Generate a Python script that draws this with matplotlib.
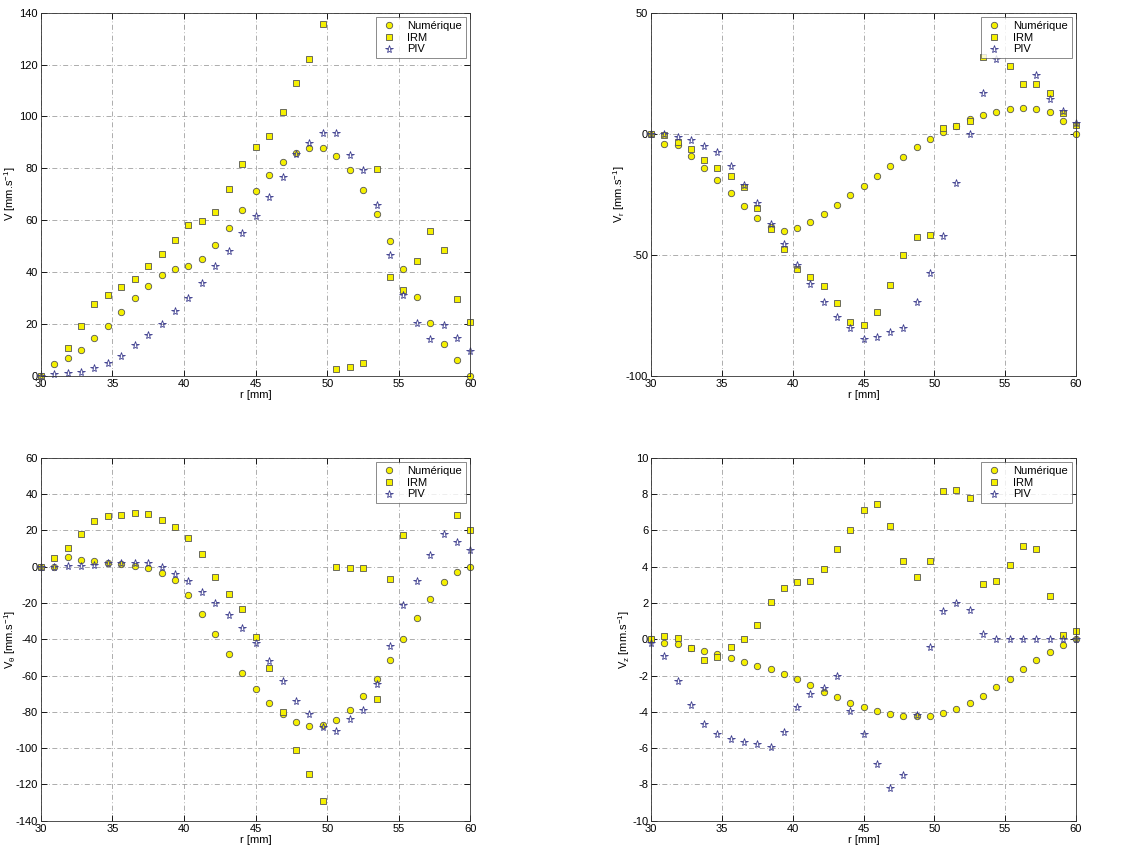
import matplotlib.pyplot as plt
import numpy as np

nan = np.nan

# radial positions (mm), 33 stations from 30 to 60
r = [30.0, 30.94, 31.88, 32.81, 33.75, 34.69, 35.63, 36.56, 37.5, 38.44, 39.38,
     40.31, 41.25, 42.19, 43.13, 44.06, 45.0, 45.94, 46.88, 47.81, 48.75, 49.69,
     50.63, 51.56, 52.5, 53.44, 54.38, 55.31, 56.25, 57.19, 58.13, 59.06, 60.0]

# V
v_num = [0, 4.7, 6.9, 10, 14.4, 19.3, 24.5, 29.8, 34.7, 38.7, 41, 42.2, 45.2, 50.3,
         56.8, 64.1, 71.2, 77.4, 82.4, 85.9, 87.8, 87.8, 84.7, 79.2, 71.5, 62.3,
         52, 41.3, 30.3, 20.2, 12.3, 6.2, 0]
v_irm = [0, nan, 10.8, 19.3, 27.5, 31.1, 34.1, 37.4, 42.4, 47, 52.4, 58, 59.8, 63.1,
         71.9, 81.6, 88.4, 92.5, 101.7, 113.1, 122.2, 135.7, 2.7, 3.5, 5.1, 79.7,
         38.2, 32.9, 44.1, 55.8, 48.6, 29.6, 20.8]
v_piv = [0, 0.5, 1, 1.5, 3.1, 4.8, 7.7, 11.7, 15.6, 20, 24.8, 29.8, 35.9, 42.3,
         48.3, 54.9, 61.7, 68.8, 76.5, 85.6, 89.6, 93.7, 93.7, 85, 79.4, 65.9,
         46.7, 31, 20.2, 14, 19.4, 14.4, 9.5]

# Vr
vr_num = [0, -4.4, -4.5, -9.2, -14, -19.1, -24.4, -29.8, -34.7, -38.5, -40.2,
          -39.1, -36.6, -33.3, -29.5, -25.5, -21.5, -17.4, -13.2, -9.4, -5.5,
          -2.1, 0.8, 3.4, 6.1, 7.7, 9.2, 10.2, 10.6, 10.3, 9, 5.4, 0]
vr_irm = [0, -0.4, -3.2, -6.3, -11, -14.3, -17.6, -22.2, -30.6, -39.4, -47.5,
          -55.8, -59.2, -62.8, -70, -78, -79.2, -73.8, -62.3, -50.1, -42.7,
          -41.9, 2.5, 3.2, 5.1, 31.7, nan, 28, 20.5, 20.5, 17, 8.4, 3.6]
vr_piv = [0, 0, -1.4, -2.6, -5.1, -7.6, -13.4, -21.3, -28.7, -37.3, -45.7, -54.1,
          -62, -69.6, -75.8, -80.4, -84.7, -84, -81.8, -80.2, -69.6, -57.7,
          -42.4, -20.2, 0, 17, 31.1, nan, nan, 24.1, 14.2, 9.4, 4.5]

# Vtheta
vt_num = [0, 0, 5.2, 3.6, 3.1, 2.1, 1.4, 0.4, -0.8, -3.4, -7.6, -15.7, -26.3,
          -37.3, -48.4, -58.8, -67.6, -75.3, -81.2, -85.4, -87.6, -87.2, -84.7,
          -78.8, -71.1, -61.8, -51.3, -39.7, -28.3, -17.7, -8.6, -2.8, 0]
vt_irm = [0, 4.7, 10.4, 18.1, 25.3, 27.9, 28.6, 29.7, 29, 25.5, 22.1, 16, 6.9,
          -5.8, -15.3, -23.5, -39, -55.7, -80, -101.1, -114.3, -129, 0, -0.8,
          -1, -72.8, -6.7, 17.6, nan, nan, nan, 28.4, 20.1]
vt_piv = [0, 0, 0.4, 0.5, 1, 2.1, 2.2, 2.2, 2.2, -0.4, -3.9, -7.9, -14.2, -20.2,
          -26.5, -34, -42.1, -52.2, -63, -73.9, -81.2, -88.2, -90.5, -84, -79.1,
          -64.9, -43.6, -21.1, -7.9, 6.2, 17.8, 13.5, 9.3]

# Vz
vz_num = [0, -0.19, -0.25, -0.47, -0.65, -0.84, -1.04, -1.24, -1.46, -1.66,
          -1.9, -2.19, -2.54, -2.89, -3.2, -3.5, -3.76, -3.96, -4.12, -4.21,
          -4.25, -4.21, -4.07, -3.83, -3.52, -3.11, -2.65, -2.17, -1.66, -1.17,
          -0.71, -0.34, 0]
vz_irm = [0, 0.16, 0.05, -0.47, -1.17, -1.0, -0.45, 0, 0.8, 2.05, 2.82, 3.17,
          3.2, 3.87, 4.99, 6.03, 7.13, 7.47, 6.24, 4.33, 3.44, 4.29, 8.16, 8.22,
          7.8, 3.06, 3.2, 4.1, 5.13, 4.95, 2.38, 0.25, 0.45]
vz_piv = [-0.21, -0.91, -2.3, -3.65, -4.68, -5.24, -5.48, -5.68, -5.76, -5.94,
          -5.1, -3.72, -3.02, -2.67, -2.05, -3.94, -5.24, -6.86, -8.22, -7.5,
          -4.2, -0.41, 1.53, 2.01, 1.61, 0.3, 0, 0, 0, 0, 0, 0, 0]

plt.rcParams['font.family'] = ['Liberation Sans', 'DejaVu Sans']
plt.rcParams['mathtext.default'] = 'regular'
plt.rcParams['axes.unicode_minus'] = False
plt.rcParams['font.size'] = 7.5

fig = plt.figure(figsize=(11.31, 8.52), dpi=100)

panels = [
    ([0.036, 0.559, 0.380, 0.426], v_num, v_irm, v_piv, 'V [mm.s$^{-1}$]',
     (0, 140), np.arange(0, 141, 20), -0.052),
    ([0.5756, 0.559, 0.3758, 0.426], vr_num, vr_irm, vr_piv, 'V$_r$ [mm.s$^{-1}$]',
     (-100, 50), [-100, -50, 0, 50], -0.056),
    ([0.036, 0.0367, 0.380, 0.426], vt_num, vt_irm, vt_piv,
     'V$_\\theta$ [mm.s$^{-1}$]', (-140, 60), np.arange(-140, 61, 20), -0.054),
    ([0.5756, 0.0367, 0.3758, 0.426], vz_num, vz_irm, vz_piv,
     'V$_z$ [mm.s$^{-1}$]', (-10, 10), np.arange(-10, 11, 2), -0.045),
]

for pos, num, irm, piv, ylab, ylim, yt, ylab_x in panels:
    ax = fig.add_axes(pos)
    ax.plot(r, num, 'o', ms=4.6, mfc='#f5f000', mec='#555555', mew=0.6,
            label='Numérique', clip_on=False)
    ax.plot(r, irm, 's', ms=4.3, mfc='#f5f000', mec='#555555', mew=0.6,
            label='IRM', clip_on=False)
    ax.plot(r, piv, '*', ms=5.8, mfc='none', mec='#3a3a8c', mew=0.6,
            label='PIV', clip_on=False)
    ax.set_xlim(30, 60)
    ax.set_ylim(*ylim)
    ax.set_xticks(np.arange(30, 61, 5))
    ax.set_yticks(yt)
    ax.grid(True, color='#a0a0a0', linestyle=(0, (6, 3, 1, 3)), lw=0.6)
    ax.set_axisbelow(True)
    ax.tick_params(direction='in', top=True, right=True, length=4, width=0.6,
                   pad=2, labelsize=8)
    for s in ax.spines.values():
        s.set_linewidth(0.6)
        s.set_color('#333333')
    ax.set_xlabel('r [mm]', labelpad=1, fontsize=8)
    ax.set_ylabel(ylab, fontsize=8)
    ax.yaxis.set_label_coords(ylab_x, 0.5)
    leg = ax.legend(loc='upper right', fontsize=8, frameon=True, fancybox=False,
                    borderaxespad=0.4, handletextpad=0.9, borderpad=0.35,
                    labelspacing=0.15, handlelength=1.6)
    leg.get_frame().set_edgecolor('#555555')
    leg.get_frame().set_linewidth(0.6)
    leg.set_zorder(5)

fig.savefig('out.png', dpi=100, facecolor='white')
